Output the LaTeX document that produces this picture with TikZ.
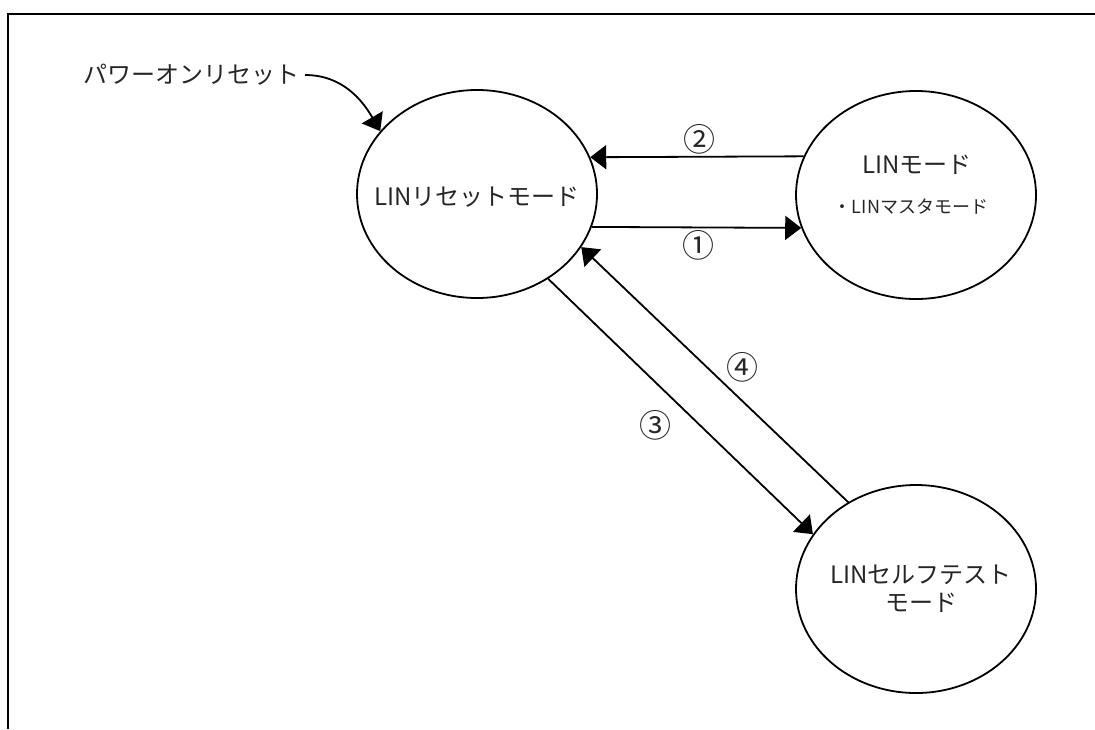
\documentclass[tikz,border=0pt]{standalone}
\usepackage{fontspec}
\setmainfont{Noto Sans CJK JP}
\usetikzlibrary{arrows.meta,shapes.geometric}

\begin{document}
\begin{tikzpicture}[
    x=0.5pt, y=-0.5pt,
    font=\fontsize{12}{14}\selectfont,
    state/.style={draw, ellipse, line width=0.9pt, minimum width=120pt,
                  minimum height=104pt, inner sep=0pt},
    lbl/.style={inner sep=1pt, align=center, text=black!85},
    num/.style={inner sep=0pt, text=black!85, font=\fontsize{16}{18}\selectfont},
    arrow/.style={-{Triangle[length=8pt, width=12pt]}, line width=0.9pt}
]
\useasboundingbox (0,0) rectangle (1095,729);
\draw[line width=1.35pt] (8,729) -- (8,14) -- (1095,14);

\node[state] (reset) at (477,194) {};
\node[lbl] (resettxt) at (477,197) {LINリセットモード};
\node[state] (lin) at (916,195) {};
\node[lbl] (linname) at (917,165) {LINモード};
\node[lbl, font=\fontsize{9}{11}\selectfont] (linsub) at (911,207) {・LINマスタモード};
\node[state] (selftest) at (916,589) {};
\node[lbl] (selftesttxt) at (921,589) {LINセルフテスト\\モード};

\node[lbl, inner sep=2.5pt, anchor=east] (pwr) at (305,75) {パワーオンリセット};
\draw[arrow] (pwr.east) to[out=0, in=120] (reset.147);

\draw[arrow] (reset.344) -- (lin.196);
\draw[arrow] (lin.161) -- (reset.18);
\draw[arrow] (reset.310) -- (selftest.152);
\draw[arrow] (selftest.128) -- (reset.333);

\node[num] (one) at (698,245) {①};
\node[num] (two) at (699,139) {②};
\node[num] (three) at (655,425) {③};
\node[num] (four) at (742,367) {④};
\end{tikzpicture}
\end{document}
